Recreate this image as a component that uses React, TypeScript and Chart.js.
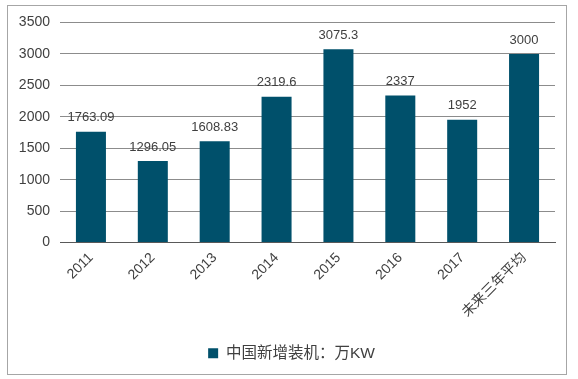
import React, { useEffect, useRef } from "react";
import { Chart, registerables } from "chart.js";

Chart.register(...registerables);

const categories = ["2011", "2012", "2013", "2014", "2015", "2016", "2017", "未来三年平均"];
const values = [1763.09, 1296.05, 1608.83, 2319.6, 3075.3, 2337, 1952, 3000];
const valueLabels = ["1763.09", "1296.05", "1608.83", "2319.6", "3075.3", "2337", "1952", "3000"];
const seriesName = "中国新增装机：万KW";
const yMax = 3500;
const yStep = 500;

const FONT = "'Liberation Sans', Arial, 'Noto Sans CJK SC', sans-serif";
const BAR = "#00506b";
const TEXT = "#404040";

const labelPlugin = {
  id: "valueLabels",
  afterDatasetsDraw(chart: any) {
    const ctx = chart.ctx;
    const meta = chart.getDatasetMeta(0);
    ctx.save();
    ctx.font = `13px ${FONT}`;
    ctx.fillStyle = TEXT;
    ctx.textAlign = "center";
    ctx.textBaseline = "middle";
    meta.data.forEach((el: any, i: number) => {
      ctx.fillText(valueLabels[i], el.x, el.y - 14);
    });
    ctx.restore();
  },
};

export default function App() {
  const ref = useRef<HTMLCanvasElement>(null);
  useEffect(() => {
    if (!ref.current) return;
    const chart: any = new Chart(ref.current, {
      type: "bar",
      data: {
        labels: categories,
        datasets: [
          {
            label: seriesName,
            data: values,
            backgroundColor: BAR,
            borderWidth: 0,
            categoryPercentage: 1,
            barPercentage: 0.485,
          },
        ],
      },
      options: {
        animation: false,
        responsive: false,
        maintainAspectRatio: false,
        layout: { padding: { left: 0, right: 23, top: 22.5, bottom: 8 } },
        plugins: {
          tooltip: { enabled: false },
          legend: {
            display: true,
            position: "bottom",
            labels: {
              boxWidth: 10,
              boxHeight: 10,
              padding: 10,
              color: TEXT,
              font: { size: 15.5, family: FONT },
            },
          },
        },
        scales: {
          x: {
            grid: { display: false, drawTicks: false },
            border: { display: true, color: "#595959", width: 1 },
            ticks: {
              minRotation: 45,
              maxRotation: 45,
              padding: 7,
              color: TEXT,
              font: { size: 14, family: FONT },
            },
            afterFit(scale: any) {
              scale.height = 93;
            },
          },
          y: {
            min: 0,
            max: yMax,
            grid: { color: "#8c8c8c", drawTicks: false, lineWidth: 1 },
            border: { display: false },
            ticks: {
              stepSize: yStep,
              padding: 10,
              color: TEXT,
              font: { size: 14, family: FONT },
              callback: (v: any) => String(v),
            },
            afterFit(scale: any) {
              scale.width = 60;
            },
          },
        },
      },
      plugins: [labelPlugin],
    });
    const legend = chart.legend;
    if (legend) {
      const origDraw = legend.draw.bind(legend);
      legend.draw = (...args: any[]) => {
        const ctx = chart.ctx;
        ctx.save();
        ctx.translate(14, 0);
        origDraw(...args);
        ctx.restore();
      };
      chart.draw();
    }
    return () => chart.destroy();
  }, []);
  return (
    <div style={{ position: "absolute", left: 0, top: 0, width: 578, height: 379, background: "#fff" }}>
      <div
        style={{
          position: "absolute",
          left: 7,
          top: 5,
          width: 560,
          height: 370,
          border: "1px solid #a6a6a6",
          boxSizing: "border-box",
        }}
      />
      <canvas ref={ref} width={578} height={379} style={{ position: "absolute", left: 0, top: 0 }} />
    </div>
  );
}
